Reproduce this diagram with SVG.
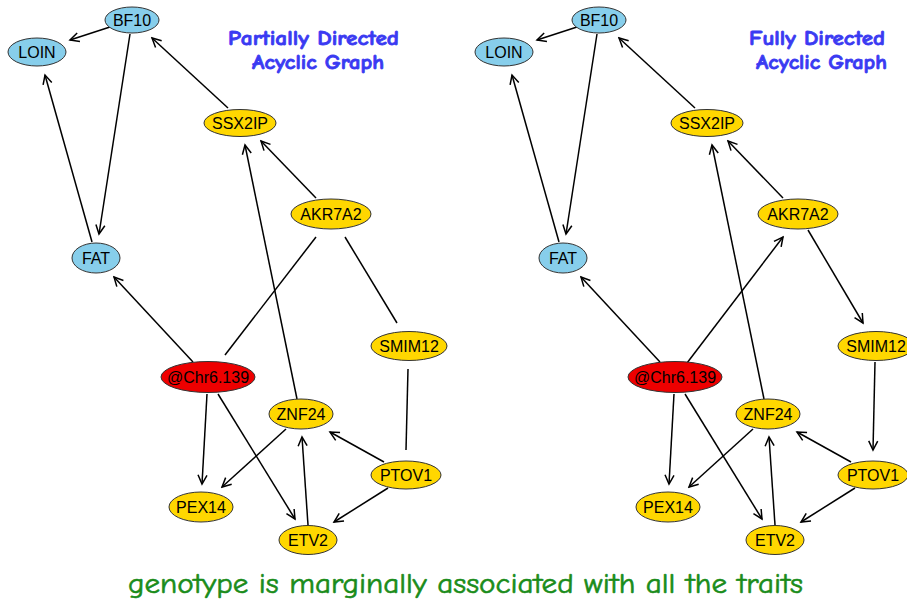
<svg xmlns="http://www.w3.org/2000/svg" width="907" height="609" viewBox="0 0 907 609">
<style>
.e{stroke:#333;stroke-width:1}
.b{fill:#87CEEB}
.y{fill:#FFD700}
.r{fill:#EE0000}
.t{font-family:"Liberation Sans",Arial,sans-serif;font-size:16px;fill:#000;text-anchor:middle;dominant-baseline:central}
.c line{stroke:#000;stroke-width:1.5}
.a{marker-end:url(#ah)}
.ttl{font-family:"Comic Neue","DejaVu Sans",sans-serif;font-weight:bold;font-size:21px;fill:#3a3af2;stroke:#3a3af2;stroke-width:0.8}
.ft{font-family:"Comic Neue","DejaVu Sans",sans-serif;font-size:28px;fill:#1a8c1a;stroke:#1a8c1a;stroke-width:0.6}
</style>
<defs>
<marker id="ah" markerWidth="12" markerHeight="12" refX="10" refY="6" orient="auto" markerUnits="userSpaceOnUse">
<path d="M1,1.5 L10,6 L1,10.5" fill="none" stroke="#000" stroke-width="1.5"/>
</marker>
</defs>
<rect width="907" height="609" fill="#fff"/>

<g id="connectors-left" class="c">
<line class="a" x1="110" y1="27" x2="70" y2="40"/>
<line class="a" x1="130" y1="34" x2="99" y2="234"/>
<line class="a" x1="92" y1="242" x2="45" y2="75"/>
<line class="a" x1="228" y1="108" x2="152" y2="38"/>
<line class="a" x1="316" y1="198" x2="261" y2="141"/>
<line class="a" x1="297" y1="399" x2="245" y2="145"/>
<line x1="316" y1="237" x2="225" y2="355"/>
<line x1="345" y1="237" x2="397" y2="323"/>
<line class="a" x1="193" y1="362" x2="114" y2="277"/>
<line class="a" x1="207" y1="394" x2="202" y2="484"/>
<line class="a" x1="218" y1="394" x2="295" y2="519"/>
<line class="a" x1="286" y1="429" x2="222" y2="487"/>
<line class="a" x1="308" y1="525" x2="302" y2="437"/>
<line class="a" x1="384" y1="462" x2="330" y2="432"/>
<line class="a" x1="388" y1="488" x2="334" y2="522"/>
<line x1="408" y1="369" x2="406" y2="450"/>
</g>

<g id="connectors-right" class="c" transform="translate(467,0)">
<line class="a" x1="110" y1="27" x2="70" y2="40"/>
<line class="a" x1="130" y1="34" x2="99" y2="234"/>
<line class="a" x1="92" y1="242" x2="45" y2="75"/>
<line class="a" x1="228" y1="108" x2="152" y2="38"/>
<line class="a" x1="316" y1="198" x2="261" y2="141"/>
<line class="a" x1="297" y1="399" x2="245" y2="145"/>
<line class="a" x1="220" y1="363" x2="316" y2="237"/>
<line class="a" x1="341" y1="230" x2="396" y2="323"/>
<line class="a" x1="193" y1="362" x2="114" y2="277"/>
<line class="a" x1="207" y1="394" x2="202" y2="484"/>
<line class="a" x1="218" y1="394" x2="295" y2="519"/>
<line class="a" x1="286" y1="429" x2="222" y2="487"/>
<line class="a" x1="308" y1="525" x2="302" y2="437"/>
<line class="a" x1="384" y1="462" x2="330" y2="432"/>
<line class="a" x1="388" y1="488" x2="334" y2="522"/>
<line class="a" x1="408" y1="362" x2="406" y2="450"/>
</g>

<g id="left-graph">
<g id="L-BF10"><ellipse class="e b" cx="132" cy="20" rx="27" ry="13"/><text class="t" x="132" y="20">BF10</text></g>
<g id="L-LOIN"><ellipse class="e b" cx="37" cy="52" rx="29" ry="14"/><text class="t" x="37" y="52">LOIN</text></g>
<g id="L-SSX2IP"><ellipse class="e y" cx="240" cy="123" rx="36" ry="13.5"/><text class="t" x="240" y="123">SSX2IP</text></g>
<g id="L-FAT"><ellipse class="e b" cx="96" cy="258" rx="24" ry="15"/><text class="t" x="96" y="258">FAT</text></g>
<g id="L-AKR7A2"><ellipse class="e y" cx="331" cy="214" rx="40" ry="15"/><text class="t" x="331" y="214">AKR7A2</text></g>
<g id="L-SMIM12"><ellipse class="e y" cx="409" cy="346" rx="38" ry="14.5"/><text class="t" x="409" y="346">SMIM12</text></g>
<g id="L-Chr6"><ellipse class="e r" cx="208" cy="377" rx="47" ry="15.5"/><text class="t" x="208" y="377">@Chr6.139</text></g>
<g id="L-ZNF24"><ellipse class="e y" cx="301" cy="414" rx="32" ry="15"/><text class="t" x="301" y="414">ZNF24</text></g>
<g id="L-PTOV1"><ellipse class="e y" cx="406" cy="475" rx="35" ry="14"/><text class="t" x="406" y="475">PTOV1</text></g>
<g id="L-PEX14"><ellipse class="e y" cx="201" cy="507" rx="32" ry="15"/><text class="t" x="201" y="507">PEX14</text></g>
<g id="L-ETV2"><ellipse class="e y" cx="308" cy="540" rx="29" ry="14.5"/><text class="t" x="308" y="540">ETV2</text></g>
</g>

<g id="right-graph" transform="translate(467,0)">
<g id="R-BF10"><ellipse class="e b" cx="132" cy="20" rx="27" ry="13"/><text class="t" x="132" y="20">BF10</text></g>
<g id="R-LOIN"><ellipse class="e b" cx="37" cy="52" rx="29" ry="14"/><text class="t" x="37" y="52">LOIN</text></g>
<g id="R-SSX2IP"><ellipse class="e y" cx="240" cy="123" rx="36" ry="13.5"/><text class="t" x="240" y="123">SSX2IP</text></g>
<g id="R-FAT"><ellipse class="e b" cx="96" cy="258" rx="24" ry="15"/><text class="t" x="96" y="258">FAT</text></g>
<g id="R-AKR7A2"><ellipse class="e y" cx="331" cy="214" rx="40" ry="15"/><text class="t" x="331" y="214">AKR7A2</text></g>
<g id="R-SMIM12"><ellipse class="e y" cx="409" cy="346" rx="38" ry="14.5"/><text class="t" x="409" y="346">SMIM12</text></g>
<g id="R-Chr6"><ellipse class="e r" cx="208" cy="377" rx="47" ry="15.5"/><text class="t" x="208" y="377">@Chr6.139</text></g>
<g id="R-ZNF24"><ellipse class="e y" cx="301" cy="414" rx="32" ry="15"/><text class="t" x="301" y="414">ZNF24</text></g>
<g id="R-PTOV1"><ellipse class="e y" cx="406" cy="475" rx="35" ry="14"/><text class="t" x="406" y="475">PTOV1</text></g>
<g id="R-PEX14"><ellipse class="e y" cx="201" cy="507" rx="32" ry="15"/><text class="t" x="201" y="507">PEX14</text></g>
<g id="R-ETV2"><ellipse class="e y" cx="308" cy="540" rx="29" ry="14.5"/><text class="t" x="308" y="540">ETV2</text></g>
</g>

<g id="titles">
<text class="ttl" x="228" y="45" textLength="171" lengthAdjust="spacingAndGlyphs">Partially Directed</text>
<text class="ttl" x="252" y="69" textLength="132" lengthAdjust="spacingAndGlyphs">Acyclic Graph</text>
<text class="ttl" x="749" y="45" textLength="136" lengthAdjust="spacingAndGlyphs">Fully Directed</text>
<text class="ttl" x="756" y="69" textLength="131" lengthAdjust="spacingAndGlyphs">Acyclic Graph</text>
<text class="ft" x="128" y="593" textLength="675" lengthAdjust="spacingAndGlyphs">genotype is marginally associated with all the traits</text>
</g>
</svg>
